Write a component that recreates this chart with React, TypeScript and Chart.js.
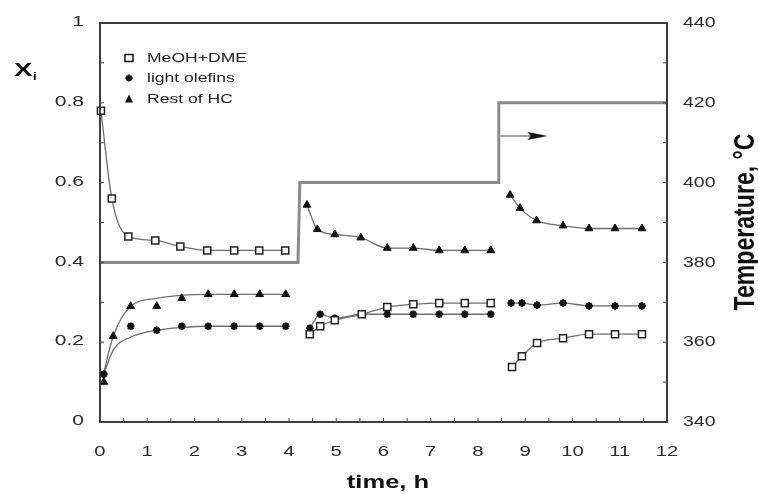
import React, { useEffect, useRef } from 'react';
import { Chart, registerables } from 'chart.js';
Chart.register(...registerables);

// ---- tick labels ----
const xTickValues = [0, 1, 2, 3, 4, 5, 6, 7, 8, 9, 10, 11, 12];
const xTickLabels = ['0', '1', '2', '3', '4', '5', '6', '7', '8', '9', '10', '11', '12'];
const yTickValues = [0, 0.2, 0.4, 0.6, 0.8, 1];
const yTickLabels = ['0', '0.2', '0.4', '0.6', '0.8', '1'];
const tempTickValues = [340, 360, 380, 400, 420, 440];
const tempTickLabels = ['340', '360', '380', '400', '420', '440'];

const seriesNames = ['MeOH+DME', 'light olefins', 'Rest of HC'];
const xTitle = 'time, h';
const yTitleMain = 'X';
const yTitleSub = 'i';
const y2Title = 'Temperature, °C';

// ---- measured data ----
const meohTime = [0.02, 0.25, 0.6, 1.17, 1.7, 2.27, 2.84, 3.37, 3.92, 4.44, 4.66, 4.97, 5.54, 6.08, 6.63, 7.18, 7.72, 8.27, 8.72, 8.93, 9.25, 9.8, 10.35, 10.9, 11.47];
const meohX = [0.78, 0.56, 0.465, 0.455, 0.44, 0.43, 0.43, 0.43, 0.43, 0.22, 0.24, 0.255, 0.27, 0.288, 0.295, 0.298, 0.298, 0.298, 0.138, 0.165, 0.198, 0.21, 0.22, 0.22, 0.22];

const oleTime = [0.08, 0.65, 1.2, 1.73, 2.29, 2.84, 3.38, 3.93, 4.44, 4.66, 4.97, 5.54, 6.08, 6.63, 7.18, 7.72, 8.27, 8.7, 8.93, 9.25, 9.8, 10.35, 10.9, 11.47];
const oleX = [0.12, 0.24, 0.23, 0.24, 0.24, 0.24, 0.24, 0.24, 0.235, 0.27, 0.26, 0.27, 0.27, 0.27, 0.27, 0.27, 0.27, 0.298, 0.298, 0.293, 0.298, 0.291, 0.291, 0.291];

const hcTime = [0.08, 0.28, 0.65, 1.2, 1.73, 2.29, 2.84, 3.38, 3.93, 4.38, 4.6, 4.97, 5.52, 6.08, 6.63, 7.18, 7.72, 8.27, 8.68, 8.89, 9.24, 9.8, 10.35, 10.9, 11.47];
const hcX = [0.1, 0.215, 0.29, 0.29, 0.31, 0.32, 0.32, 0.32, 0.32, 0.544, 0.483, 0.47, 0.462, 0.436, 0.436, 0.43, 0.43, 0.43, 0.569, 0.536, 0.505, 0.492, 0.485, 0.485, 0.485];

// model-fit curves in the first period
const oleFitTime1 = [0.05, 0.28, 0.65, 1.2, 1.75, 2.3, 3.93];
const oleFitX1 = [0.11, 0.18, 0.213, 0.23, 0.237, 0.24, 0.24];
const hcFitTime1 = [0.05, 0.28, 0.65, 1.2, 1.75, 2.3, 3.93];
const hcFitX1 = [0.11, 0.215, 0.29, 0.31, 0.318, 0.32, 0.32];

// temperature programme (right axis)
const tempTime = [0, 4.19, 4.23, 8.44, 8.44, 12];
const tempC = [380, 380, 400, 400, 420, 420];
const periodBreaks = [4.2, 8.44];

// arrow pointing to the right axis
const arrowTime = [8.47, 9.26];
const arrowC = [411.7, 411.7];

const FONT = "'Liberation Sans', Arial, sans-serif";

function pts(t: number[], v: number[]) {
  return t.map((x, i) => ({ x, y: v[i] }));
}
function withBreaks(t: number[], v: number[]) {
  const out: { x: number; y: number | null }[] = [];
  for (let i = 0; i < t.length; i++) {
    if (i > 0) {
      for (const b of periodBreaks) {
        if (t[i - 1] < b && t[i] > b) out.push({ x: b, y: null });
      }
    }
    out.push({ x: t[i], y: v[i] });
  }
  return out;
}
function laterPeriods(t: number[], v: number[]) {
  const tt: number[] = [];
  const vv: number[] = [];
  t.forEach((x, i) => {
    if (x > periodBreaks[0]) {
      tt.push(x);
      vv.push(v[i]);
    }
  });
  return [tt, vv];
}

function makeArrowHead() {
  const c = document.createElement('canvas');
  c.width = 22;
  c.height = 10;
  const g = c.getContext('2d')!;
  g.fillStyle = '#111';
  g.beginPath();
  g.moveTo(1, 1);
  g.lineTo(21, 5);
  g.lineTo(1, 9);
  g.lineTo(4, 5);
  g.closePath();
  g.fill();
  return c;
}

function stretchText(ctx: CanvasRenderingContext2D, text: string, x: number, y: number, align: CanvasTextAlign, sx: number) {
  ctx.save();
  ctx.translate(x, y);
  ctx.scale(sx, 1);
  ctx.textAlign = align;
  ctx.fillText(text, 0, 0);
  ctx.restore();
}

function drawMarker(ctx: CanvasRenderingContext2D, kind: number, x: number, y: number) {
  ctx.save();
  ctx.strokeStyle = '#111';
  ctx.fillStyle = '#111';
  if (kind === 0) {
    ctx.fillStyle = '#fff';
    ctx.lineWidth = 1.5;
    ctx.fillRect(x - 4, y - 3.5, 8, 7);
    ctx.strokeRect(x - 4, y - 3.5, 8, 7);
  } else if (kind === 1) {
    ctx.lineWidth = 1.8;
    const r = 3.5;
    ctx.beginPath();
    for (let k = 0; k < 4; k++) {
      const a = (k * Math.PI) / 4;
      ctx.moveTo(x - r * Math.cos(a), y - r * Math.sin(a));
      ctx.lineTo(x + r * Math.cos(a), y + r * Math.sin(a));
    }
    ctx.stroke();
  } else {
    ctx.beginPath();
    ctx.moveTo(x, y - 4.5);
    ctx.lineTo(x + 4, y + 3.5);
    ctx.lineTo(x - 4, y + 3.5);
    ctx.closePath();
    ctx.fill();
  }
  ctx.restore();
}

const decorPlugin = {
  id: 'decor',
  afterDraw(chart: any) {
    const ctx: CanvasRenderingContext2D = chart.ctx;
    const { left, right, top, bottom } = chart.chartArea;
    const sx = chart.scales.x;
    const sy = chart.scales.y;
    const s2 = chart.scales.y2;
    ctx.save();
    // frame
    ctx.strokeStyle = '#2a2a2a';
    ctx.lineWidth = 1.8;
    ctx.strokeRect(left, top, right - left, bottom - top);
    // minor inward ticks
    ctx.lineWidth = 1;
    ctx.strokeStyle = '#444';
    ctx.beginPath();
    for (let v = 0.5; v < 12; v += 0.5) {
      const px = sx.getPixelForValue(v);
      ctx.moveTo(px, bottom);
      ctx.lineTo(px, bottom - 4);
    }
    for (let v = 0.1; v < 1; v += 0.1) {
      const py = sy.getPixelForValue(v);
      ctx.moveTo(left, py);
      ctx.lineTo(left + 4, py);
    }
    for (let v = 350; v < 440; v += 10) {
      const py = s2.getPixelForValue(v);
      ctx.moveTo(right, py);
      ctx.lineTo(right - 4, py);
    }
    ctx.stroke();

    // tick labels
    ctx.fillStyle = '#2b2b2b';
    ctx.font = `15px ${FONT}`;
    ctx.textBaseline = 'middle';
    xTickValues.forEach((v, i) => {
      stretchText(ctx, xTickLabels[i], sx.getPixelForValue(v), 452, 'center', 1.35);
    });
    yTickValues.forEach((v, i) => {
      stretchText(ctx, yTickLabels[i], 84, sy.getPixelForValue(v) - 1, 'right', 1.4);
    });
    tempTickValues.forEach((v, i) => {
      stretchText(ctx, tempTickLabels[i], 683, s2.getPixelForValue(v), 'left', 1.3);
    });

    // axis titles
    ctx.fillStyle = '#111';
    ctx.font = `bold 19px ${FONT}`;
    ctx.textBaseline = 'alphabetic';
    stretchText(ctx, yTitleMain, 14, 76, 'left', 1.45);
    ctx.font = `bold 11px ${FONT}`;
    stretchText(ctx, yTitleSub, 33, 80, 'left', 1.2);
    ctx.font = `bold 18px ${FONT}`;
    stretchText(ctx, xTitle, 388, 488, 'center', 1.42);
    ctx.save();
    ctx.translate(746, 222);
    ctx.rotate(-Math.PI / 2);
    ctx.scale(1.05, 1.3);
    ctx.font = `bold 22px ${FONT}`;
    ctx.textAlign = 'center';
    ctx.textBaseline = 'middle';
    ctx.fillText(y2Title, 0, 0);
    ctx.restore();

    // legend
    ctx.font = `13px ${FONT}`;
    ctx.textBaseline = 'middle';
    ctx.fillStyle = '#222';
    const rows = [58, 78, 99];
    seriesNames.forEach((name, i) => {
      drawMarker(ctx, i, 129, rows[i]);
      ctx.fillStyle = '#222';
      stretchText(ctx, name, 147, rows[i], 'left', 1.35);
    });
    ctx.restore();
  },
};

export default function App() {
  const ref = useRef<HTMLCanvasElement | null>(null);
  useEffect(() => {
    if (!ref.current) return;
    const [oleT2, oleX2] = laterPeriods(oleTime, oleX);
    const [hcT2, hcX2] = laterPeriods(hcTime, hcX);
    const fitLine = {
      type: 'line' as const,
      pointRadius: 0,
      borderColor: '#6e6e6e',
      borderWidth: 1.3,
      cubicInterpolationMode: 'monotone' as const,
      spanGaps: false,
      yAxisID: 'y',
      xAxisID: 'x',
      fill: false,
    };
    const markers = {
      type: 'line' as const,
      showLine: false,
      yAxisID: 'y',
      xAxisID: 'x',
      clip: false as any,
    };
    const chart = new Chart(ref.current, {
      type: 'line',
      data: {
        datasets: [
          {
            ...markers,
            label: seriesNames[0],
            data: pts(meohTime, meohX),
            pointStyle: 'rect',
            pointRadius: 5,
            pointBackgroundColor: '#fff',
            pointBorderColor: '#222',
            pointBorderWidth: 1.5,
          },
          {
            ...markers,
            label: seriesNames[1],
            data: pts(oleTime, oleX),
            pointStyle: 'star',
            pointRadius: 3.8,
            pointBorderColor: '#111',
            pointBackgroundColor: '#111',
            pointBorderWidth: 2.2,
          },
          {
            ...markers,
            label: seriesNames[2],
            data: pts(hcTime, hcX),
            pointStyle: 'triangle',
            pointRadius: 4.5,
            pointBorderColor: '#111',
            pointBackgroundColor: '#111',
            pointBorderWidth: 1,
          },
          { ...fitLine, label: 'fit MeOH', data: withBreaks(meohTime, meohX) },
          { ...fitLine, label: 'fit olefins', data: withBreaks([...oleFitTime1, ...oleT2], [...oleFitX1, ...oleX2]) },
          { ...fitLine, label: 'fit HC', data: withBreaks([...hcFitTime1, ...hcT2], [...hcFitX1, ...hcX2]) },
          {
            type: 'line',
            label: 'Temperature',
            data: pts(tempTime, tempC),
            yAxisID: 'y2',
            xAxisID: 'x',
            borderColor: '#8a8a8a',
            borderWidth: 3,
            pointRadius: 0,
            tension: 0,
          },
          {
            type: 'line',
            label: 'arrow',
            data: pts(arrowTime, arrowC),
            yAxisID: 'y2',
            xAxisID: 'x',
            borderColor: '#888',
            borderWidth: 1.5,
            pointRadius: [0, 10],
            pointStyle: [false as any, makeArrowHead() as any],
            tension: 0,
          },
        ] as any,
      },
      options: {
        animation: false,
        responsive: false,
        devicePixelRatio: 1,
        layout: { padding: { top: 23, left: 0, right: 0, bottom: 0 } },
        plugins: { legend: { display: false }, tooltip: { enabled: false } },
        scales: {
          x: {
            type: 'linear',
            min: 0,
            max: 12,
            ticks: { display: false, stepSize: 1 },
            grid: { display: false },
            border: { display: false },
            afterFit: (s: any) => {
              s.height = 72;
            },
          },
          y: {
            type: 'linear',
            position: 'left',
            min: 0,
            max: 1,
            ticks: { display: false },
            grid: { display: false },
            border: { display: false },
            afterFit: (s: any) => {
              s.width = 100;
            },
          },
          y2: {
            type: 'linear',
            position: 'right',
            min: 340,
            max: 440,
            ticks: { display: false },
            grid: { display: false },
            border: { display: false },
            afterFit: (s: any) => {
              s.width = 91;
            },
          },
        },
      } as any,
      plugins: [decorPlugin],
    });
    return () => chart.destroy();
  }, []);
  return (
    <div style={{ position: 'fixed', left: 0, top: 0, width: 758, height: 494, background: '#fff' }}>
      <canvas ref={ref} width={758} height={494} style={{ display: 'block' }} />
    </div>
  );
}
